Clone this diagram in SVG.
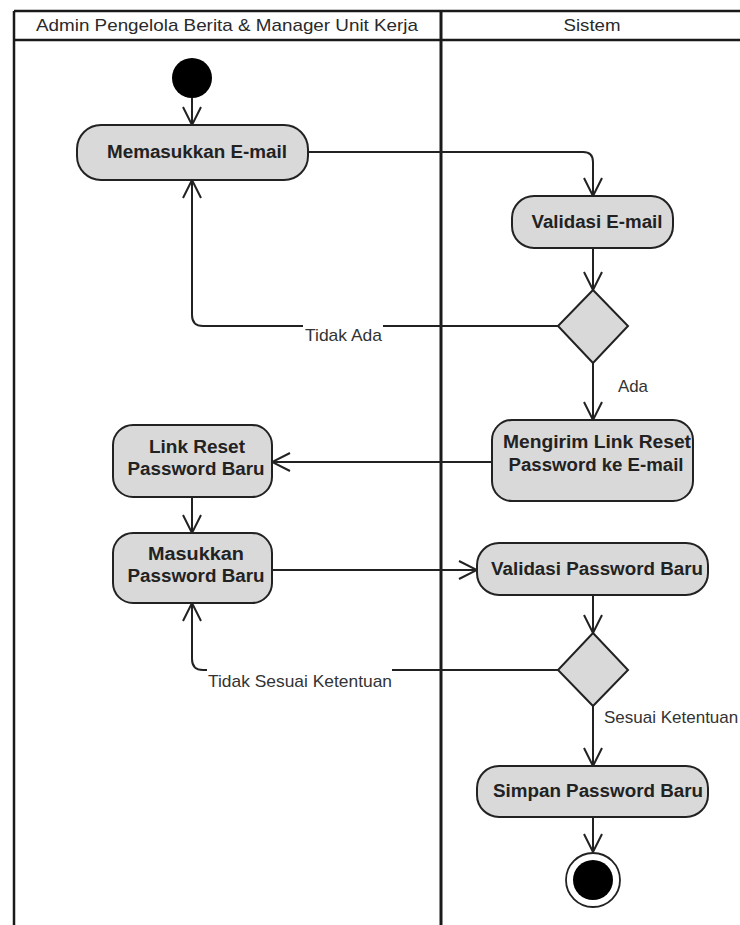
<svg xmlns="http://www.w3.org/2000/svg" width="740" height="925" viewBox="0 0 740 925">
  <style>
    .lane { stroke: #1a1a1a; fill: none; }
    .lane-title { font-family: "Liberation Sans", Arial, sans-serif; font-size: 17px; fill: #2a2a2a; text-anchor: middle; }
    .action { fill: #d9d9d9; stroke: #222; stroke-width: 2; }
    .decision { fill: #d9d9d9; stroke: #222; stroke-width: 2; }
    .action-text { font-family: "Liberation Sans", Arial, sans-serif; font-size: 17.5px; font-weight: bold; fill: #222; text-anchor: middle; }
    .edge { fill: none; stroke: #222; stroke-width: 2; }
    .edge-label { font-family: "Liberation Sans", Arial, sans-serif; font-size: 17px; fill: #333; }
    .label-bg { fill: #ffffff; }
  </style>
  <defs>
    <marker id="open-arrow" markerUnits="userSpaceOnUse" markerWidth="22" markerHeight="22" viewBox="0 0 22 22" refX="20" refY="11" orient="auto">
      <path d="M2,2 L20,11 L2,20" fill="none" stroke="#222" stroke-width="2"/>
    </marker>
  </defs>

  <rect x="0" y="0" width="740" height="925" fill="#ffffff"/>

  <!-- swimlanes -->
  <g id="swimlanes">
    <line class="lane" x1="14" y1="11" x2="740" y2="11" stroke-width="2.5"/>
    <line class="lane" x1="14" y1="40" x2="740" y2="40" stroke-width="2.5"/>
    <line class="lane" x1="14" y1="11" x2="14" y2="925" stroke-width="2.5"/>
    <line class="lane" x1="441" y1="11" x2="441" y2="925" stroke-width="3"/>
    <text class="lane-title" x="227" y="31" textLength="382" lengthAdjust="spacingAndGlyphs">Admin Pengelola Berita &amp; Manager Unit Kerja</text>
    <text class="lane-title" x="592" y="31" textLength="57" lengthAdjust="spacingAndGlyphs">Sistem</text>
  </g>

  <!-- connectors -->
  <g id="connectors">
    <path class="edge" d="M192,98 L192,125" marker-end="url(#open-arrow)"/>
    <path class="edge" d="M308,152 L583,152 Q593,152 593,162 L593,196" marker-end="url(#open-arrow)"/>
    <path class="edge" d="M593,248 L593,290" marker-end="url(#open-arrow)"/>
    <path class="edge" d="M593,363 L593,420" marker-end="url(#open-arrow)"/>
    <path class="edge" d="M558,326 L203,326 Q192,326 192,315 L192,180" marker-end="url(#open-arrow)"/>
    <path class="edge" d="M492,462 L272,462" marker-end="url(#open-arrow)"/>
    <path class="edge" d="M192,497 L192,533" marker-end="url(#open-arrow)"/>
    <path class="edge" d="M272,570 L477,570" marker-end="url(#open-arrow)"/>
    <path class="edge" d="M593,595 L593,633" marker-end="url(#open-arrow)"/>
    <path class="edge" d="M558,670 L203,670 Q192,670 192,659 L192,603" marker-end="url(#open-arrow)"/>
    <path class="edge" d="M593,706 L593,766" marker-end="url(#open-arrow)"/>
    <path class="edge" d="M593,817 L593,852" marker-end="url(#open-arrow)"/>

    <!-- guard labels -->
    <rect class="label-bg" x="303" y="322" width="80" height="24"/>
    <text class="edge-label" x="305" y="341" textLength="77" lengthAdjust="spacingAndGlyphs">Tidak Ada</text>
    <text class="edge-label" x="618" y="392" textLength="30" lengthAdjust="spacingAndGlyphs">Ada</text>
    <rect class="label-bg" x="207" y="666" width="185" height="26"/>
    <text class="edge-label" x="208" y="687" textLength="184" lengthAdjust="spacingAndGlyphs">Tidak Sesuai Ketentuan</text>
    <text class="edge-label" x="604" y="723">Sesuai Ketentuan</text>
  </g>

  <!-- start -->
  <g id="start">
    <circle cx="192" cy="78" r="20" fill="#000"/>
  </g>

  <g id="memasukkan-email">
    <rect class="action" x="77" y="125" width="231" height="55" rx="24"/>
    <text class="action-text" x="197" y="158" textLength="180" lengthAdjust="spacingAndGlyphs">Memasukkan E-mail</text>
  </g>

  <g id="validasi-email">
    <rect class="action" x="512" y="196" width="161" height="52" rx="22"/>
    <text class="action-text" x="597" y="228" textLength="131" lengthAdjust="spacingAndGlyphs">Validasi E-mail</text>
  </g>

  <g id="cek-email">
    <polygon class="decision" points="593,290 628,326 593,363 558,326"/>
  </g>

  <g id="mengirim-link">
    <rect class="action" x="492" y="420" width="201" height="81" rx="20"/>
    <text class="action-text" x="597" y="448" textLength="188" lengthAdjust="spacingAndGlyphs">Mengirim Link Reset</text>
    <text class="action-text" x="596" y="471" textLength="175" lengthAdjust="spacingAndGlyphs">Password ke E-mail</text>
  </g>

  <g id="link-reset">
    <rect class="action" x="113" y="425" width="159" height="72" rx="20"/>
    <text class="action-text" x="197" y="453" textLength="96" lengthAdjust="spacingAndGlyphs">Link Reset</text>
    <text class="action-text" x="196" y="475" textLength="137" lengthAdjust="spacingAndGlyphs">Password Baru</text>
  </g>

  <g id="masukkan-password">
    <rect class="action" x="113" y="533" width="159" height="70" rx="20"/>
    <text class="action-text" x="196" y="560" textLength="96" lengthAdjust="spacingAndGlyphs">Masukkan</text>
    <text class="action-text" x="196" y="582" textLength="137" lengthAdjust="spacingAndGlyphs">Password Baru</text>
  </g>

  <g id="validasi-password">
    <rect class="action" x="477" y="543" width="231" height="52" rx="22"/>
    <text class="action-text" x="597" y="575" textLength="212" lengthAdjust="spacingAndGlyphs">Validasi Password Baru</text>
  </g>

  <g id="cek-password">
    <polygon class="decision" points="593,633 628,670 593,706 558,670"/>
  </g>

  <g id="simpan-password">
    <rect class="action" x="477" y="766" width="231" height="51" rx="22"/>
    <text class="action-text" x="598" y="797" textLength="210" lengthAdjust="spacingAndGlyphs">Simpan Password Baru</text>
  </g>

  <g id="end">
    <circle cx="593" cy="880" r="27" fill="#fff" stroke="#222" stroke-width="1.8"/>
    <circle cx="593" cy="880" r="20" fill="#000"/>
  </g>
</svg>
